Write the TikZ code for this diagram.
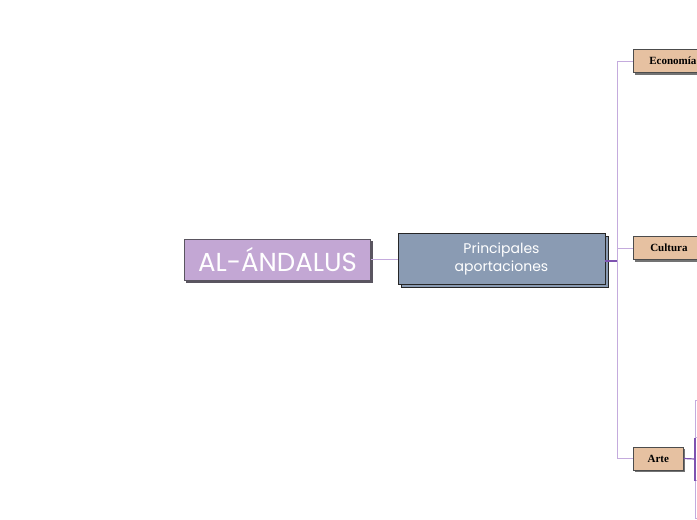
\documentclass[tikz,border=0pt]{standalone}
\usepackage{fontspec}
\setmainfont{Poppins}
\newfontfamily\labelserif{Liberation Serif}
\usetikzlibrary{shadows}
\definecolor{lav}{HTML}{C3A7D4}
\definecolor{slate}{HTML}{8A9BB3}
\definecolor{tan}{HTML}{E6C1A1}
\definecolor{lavline}{HTML}{C4ABDD}
\definecolor{purpline}{HTML}{7E52B0}
\definecolor{shadowgray}{HTML}{5A5560}
\tikzset{
  rootbox/.style={draw=shadowgray, line width=0.8pt, fill=lav, text=white, minimum width=186pt, minimum height=41pt, inner sep=0pt, font=\fontsize{26}{28}\selectfont,
    copy shadow={shadow xshift=2pt, shadow yshift=-2pt, draw=shadowgray, fill=shadowgray}},
  mainbox/.style={draw=black!85, line width=0.9pt, fill=slate, text=white, minimum width=207pt, minimum height=51pt, inner sep=0pt, align=center, font=\fontsize{14}{18}\selectfont,
    copy shadow={shadow xshift=3pt, shadow yshift=-3pt, draw=black!85, fill=slate}},
  subbox/.style={draw=black!70, line width=0.6pt, fill=tan, text=black, minimum height=23pt, inner sep=0pt, font=\labelserif\bfseries\fontsize{11}{13}\selectfont,
    drop shadow={shadow xshift=2pt, shadow yshift=-2pt, fill=black!55, opacity=1}},
  light/.style={draw=lavline, line width=1pt},
  dark/.style={draw=purpline, line width=1.2pt},
}
\begin{document}
\begin{tikzpicture}[x=1pt,y=-1pt]
\useasboundingbox (0,0) rectangle (697,520);
\clip (0,0) rectangle (697,520);
\node[rootbox] (root) at (277.5,259.5) {\raisebox{1pt}{AL-ÁNDALUS}};
\node[mainbox] (main) at (501.5,258.5) {Principales\\aportaciones};
\node[subbox, minimum width=90pt, anchor=west, text width=80pt, align=left] (eco) at (633,61) {\hspace{11pt}Economía};
\node[subbox, minimum width=90pt, anchor=west, text width=80pt, align=left] (cul) at (633,248) {\hspace{12pt}Cultura};
\node[subbox, minimum width=50pt, anchor=west] (arte) at (633,458.5) {Arte};
\coordinate (bus) at (617,261);
\coordinate (abus) at (695,459);
\coordinate (a1) at (705,400);
\coordinate (a2) at (705,437);
\coordinate (a3) at (705,480);
\coordinate (a4) at (705,518);
% connectors
\draw[light] (root.east) -- (root.east -| main.west);
\draw[dark] (main.east |- bus) -- (bus);
\draw[light] (bus) |- (eco.west);
\draw[light] (bus) |- (cul.west);
\draw[light] (bus) |- (arte.west);
\draw[dark] (arte.east) -- (abus);
\draw[light] (abus) |- (a1);
\draw[light] (abus) |- (a2);
\draw[light] (abus) |- (a3);
\draw[light] (abus) |- (a4);
\draw[dark] ([yshift=-22pt]abus) -- ([yshift=21pt]abus);
\end{tikzpicture}
\end{document}
